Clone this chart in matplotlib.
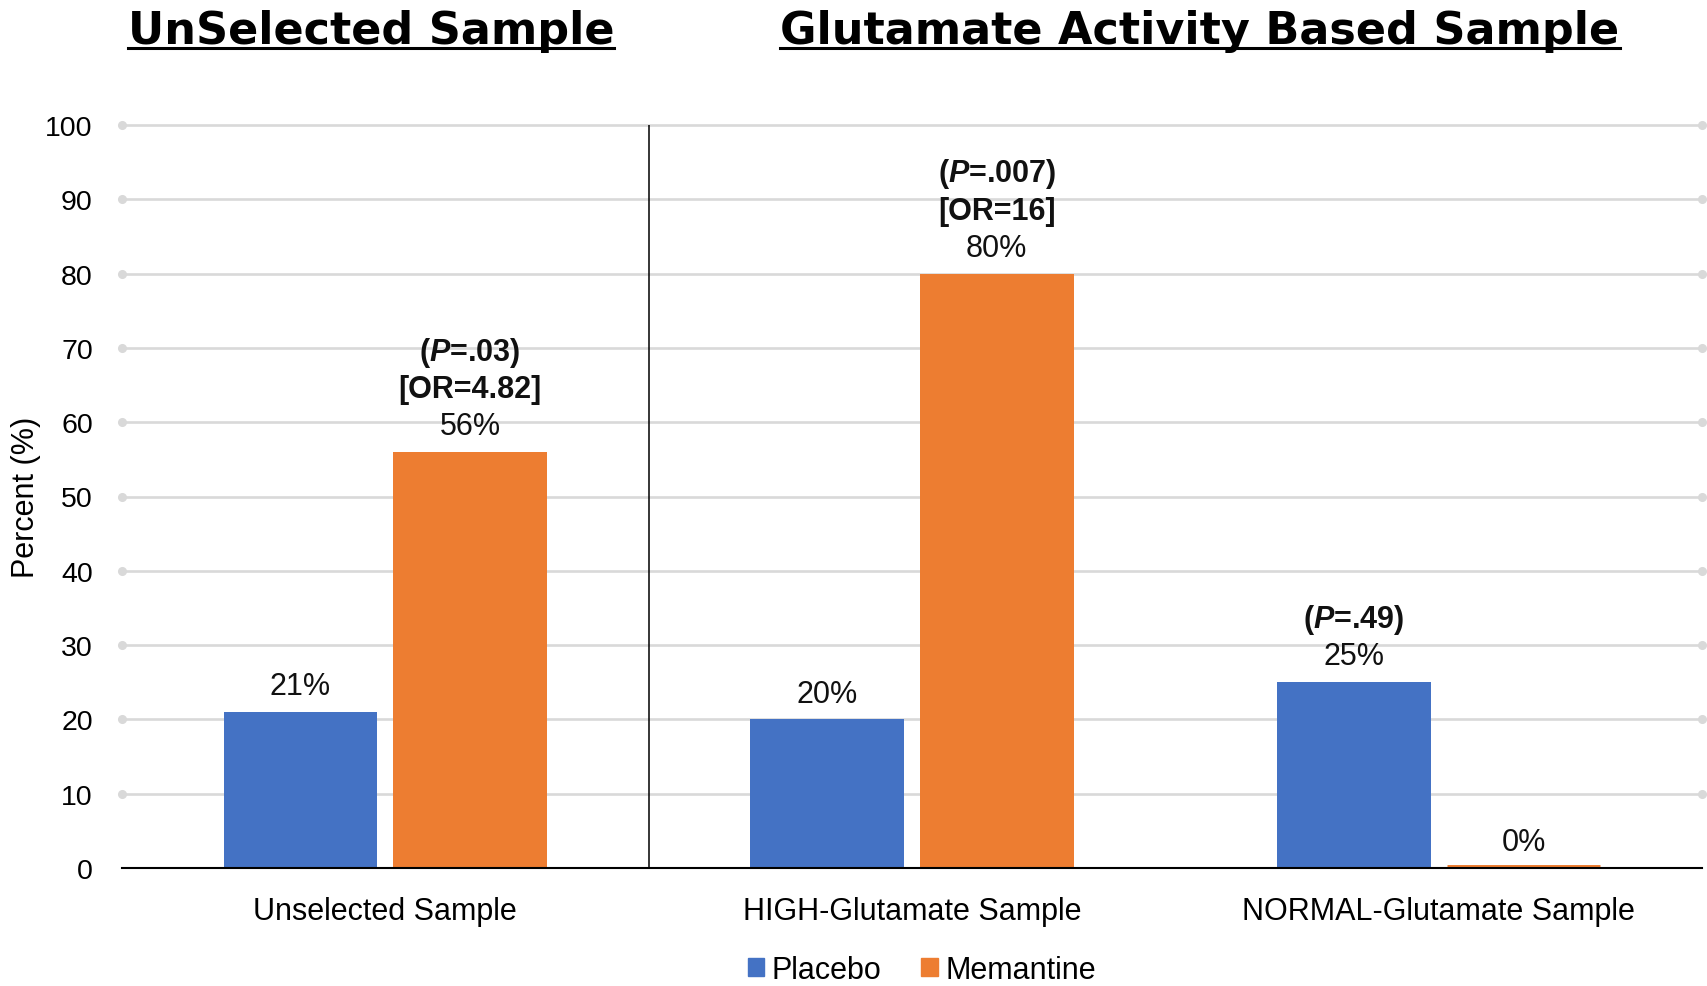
import matplotlib
matplotlib.use("Agg")
import matplotlib.pyplot as plt
from matplotlib.patches import Patch
from matplotlib.lines import Line2D

# ---- data -------------------------------------------------------------
categories = ["Unselected Sample", "HIGH-Glutamate Sample", "NORMAL-Glutamate Sample"]
series_names = ["Placebo", "Memantine"]
placebo = [21, 20, 25]
memantine = [56, 80, 0]
yticks = [0, 10, 20, 30, 40, 50, 60, 70, 80, 90, 100]
panel_titles = ["UnSelected Sample", "Glutamate Activity Based Sample"]

# statistics written above bars: (series, category) -> lines above the value
stat_notes = {
    (1, 0): ["($\\mathit{P}$=.03)", "[OR=4.82]"],
    (1, 1): ["($\\mathit{P}$=.007)", "[OR=16]"],
    (0, 2): ["($\\mathit{P}$=.49)"],
}

# ---- style ------------------------------------------------------------
BLUE = "#4472C4"
ORANGE = "#ED7D31"
GRID = "#d9d9d9"
FONT = "Liberation Sans"
FS = 22

plt.rcParams["font.family"] = [FONT, "DejaVu Sans"]
plt.rcParams["mathtext.fontset"] = "custom"
plt.rcParams["mathtext.it"] = FONT + ":italic:bold"
plt.rcParams["mathtext.rm"] = FONT + ":bold"

W, H = 1707, 987
fig = plt.figure(figsize=(W / 100, H / 100), dpi=100)
ax = fig.add_axes([122 / W, 1 - 869 / H, 1580 / W, 743 / H])

x = list(range(len(categories)))
bw = 0.292
off = 0.161
series = [placebo, memantine]
colors = [BLUE, ORANGE]
for si, (vals, col) in enumerate(zip(series, colors)):
    pos = [xi + (off if si else -off) for xi in x]
    lws = [5 if v == 0 else 0 for v in vals]
    ax.bar(pos, vals, width=bw, color=col, edgecolor=col, linewidth=lws, zorder=2)
    for xi, p, v in zip(x, pos, vals):
        base = 18.6
        ax.annotate(f"{v}%", xy=(p, v), xytext=(0, base), textcoords="offset points",
                    ha="center", va="center", fontsize=FS, color="#111111", zorder=5)
        for k, line in enumerate(reversed(stat_notes.get((si, xi), []))):
            ax.annotate(line, xy=(p, v), xytext=(0, base + 26.8 * (k + 1)),
                        textcoords="offset points", ha="center", va="center",
                        fontsize=FS, fontweight="bold", color="#111111", zorder=5)

# horizontal gridlines with round end caps
for v in yticks[1:]:
    ax.plot([0, 1], [v, v], transform=ax.get_yaxis_transform(), color=GRID, lw=1.9,
            marker="o", ms=5.5, mec=GRID, mfc=GRID, clip_on=False, zorder=0.5)
ax.plot([0, 1], [0, 0], transform=ax.get_yaxis_transform(), color="black", lw=1.5,
        clip_on=False, zorder=3)
# divider between the unselected and glutamate-based groups
ax.plot([0.5, 0.5], [0, 100], color="black", lw=1.1, zorder=3)

ax.set_xlim(-0.5, 2.5)
ax.set_ylim(0, 100)
ax.set_yticks(yticks)
ax.set_yticklabels([str(t) for t in yticks], fontsize=20.5)
ax.set_xticks(x)
ax.set_xticklabels(categories, fontsize=FS)
ax.tick_params(axis="y", length=0, pad=21)
ax.tick_params(axis="x", length=0, pad=20)
for s in ax.spines.values():
    s.set_visible(False)

fig.text(26 / W, 1 - 497 / H, "Percent (%)", rotation=90, ha="center", va="center",
         fontsize=FS)

# panel titles, bold and underlined
title_centers = [371, 1200]
title_objs = []
for t, cx in zip(panel_titles, title_centers):
    title_objs.append(fig.text(cx / W, 1 - 44 / H, t, ha="center", va="baseline",
                               fontsize=32, fontweight="bold", family="DejaVu Sans"))
fig.canvas.draw()
r = fig.canvas.get_renderer()
for to in title_objs:
    bb = to.get_window_extent(r)
    fig.add_artist(Line2D([bb.x0 / W, bb.x1 / W], [1 - 49 / H, 1 - 49 / H],
                          transform=fig.transFigure, color="black", lw=2.2))

handles = [Patch(facecolor=c, edgecolor=c) for c in colors]
fig.legend(handles, series_names, loc="center", bbox_to_anchor=(922 / W, 1 - 971 / H),
           ncol=2, frameon=False, fontsize=FS, handlelength=0.55, handleheight=0.55,
           handletextpad=0.25, columnspacing=1.3, borderaxespad=0, borderpad=0)

fig.savefig("out.png", dpi=100, facecolor="white")
